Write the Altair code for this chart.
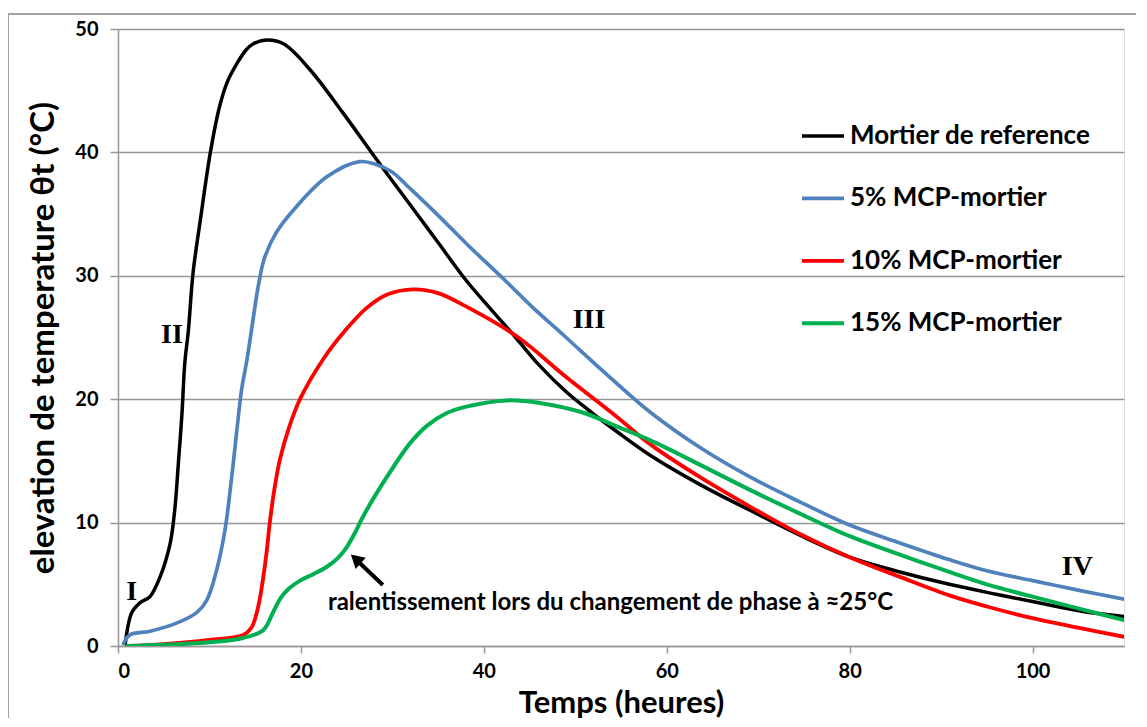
import altair as alt
import pandas as pd

# ---------------- data ----------------
series_names = ["Mortier de reference", "5% MCP-mortier", "10% MCP-mortier", "15% MCP-mortier"]
series_colors = ["#000000", "#4F81BD", "#FF0000", "#00B050"]
series_widths = [3.5, 4, 4, 4]

ref_t = [0.8, 1.5, 2.4, 3.5, 4.6, 5.7, 6.2, 6.6, 7.0, 7.3, 7.7, 8.2, 9.0, 10.1, 11.1, 12.0, 13.0, 14.0,
         14.8, 16.2, 18.1, 21.0, 24.6, 28.3, 31.9, 35.0, 38.1, 41.0, 43.6, 46.0, 49.0, 52.0, 54.5, 58.1,
         63.6, 69.1, 74.5, 80.0, 85.5, 90.9, 96.0, 100.0, 105.5, 110.0]
ref_v = [0.2, 2.7, 3.5, 4.0, 5.6, 8.3, 11.0, 14.8, 18.9, 22.9, 25.6, 30.2, 34.5, 40.0, 43.7, 45.8, 47.2, 48.3,
         48.8, 49.1, 48.8, 46.7, 43.2, 39.4, 35.8, 32.7, 29.6, 27.1, 24.9, 22.8, 20.6, 18.8, 17.4, 15.5,
         13.1, 11.0, 9.0, 7.2, 6.0, 5.0, 4.2, 3.6, 2.8, 2.4]

p5_t = [0.6, 1.3, 3.5, 6.4, 8.6, 9.7, 10.8, 11.7, 12.4, 13.0, 13.5, 14.1, 14.6, 15.3, 16.0, 17.3, 19.5,
        22.8, 26.4, 28.3, 30.0, 31.9, 35.0, 38.1, 42.5, 45.4, 49.0, 53.0, 58.1, 63.6, 69.1, 74.5, 80.0,
        85.5, 90.9, 95.0, 100.0, 105.5, 110.0]
p5_v = [0.2, 0.9, 1.2, 1.85, 2.7, 3.7, 6.2, 9.4, 13.5, 17.5, 20.7, 23.2, 25.6, 29.0, 31.4, 33.5, 35.6,
        38.0, 39.25, 39.0, 38.4, 37.1, 34.9, 32.6, 29.5, 27.4, 25.0, 22.3, 19.0, 16.1, 13.7, 11.7, 9.8,
        8.35, 7.0, 6.1, 5.3, 4.45, 3.8]

p10_t = [1.0, 5.0, 10.0, 13.7, 14.6, 15.1, 15.5, 15.85, 16.25, 16.6, 17.1, 17.7, 18.7, 19.9, 22.4, 25.0,
         27.2, 29.5, 32.3, 35.0, 38.1, 43.6, 49.0, 54.5, 58.1, 63.6, 69.1, 74.5, 80.0, 85.5, 90.9, 95.0,
         100.0, 105.5, 110.0]
p10_v = [0.0, 0.15, 0.5, 0.9, 1.5, 2.5, 3.8, 5.4, 7.6, 10.0, 12.7, 15.1, 17.7, 20.0, 23.2, 25.7,
         27.4, 28.5, 28.9, 28.6, 27.5, 25.1, 21.8, 18.6, 16.4, 13.7, 11.3, 9.1, 7.2, 5.6, 4.1, 3.2,
         2.25, 1.4, 0.75]

p15_t = [1.0, 5.0, 10.0, 13.7, 15.9, 17.0, 17.8, 18.6, 19.9, 21.3, 22.8, 24.0, 25.0, 26.0, 26.8, 29.4,
         31.9, 33.7, 36.0, 38.1, 42.5, 46.1, 50.9, 54.5, 58.1, 63.6, 69.1, 74.5, 80.0, 85.5, 90.9, 95.0,
         100.0, 105.5, 110.0]
p15_v = [0.0, 0.1, 0.3, 0.65, 1.3, 2.8, 3.9, 4.6, 5.3, 5.8, 6.4, 7.1, 8.0, 9.3, 10.5, 13.7,
         16.4, 17.8, 18.9, 19.4, 19.9, 19.7, 18.9, 17.8, 16.7, 14.7, 12.65, 10.75, 8.9, 7.4, 6.0, 5.0,
         4.0, 2.95, 2.1]

x_ticks = [0, 20, 40, 60, 80, 100]
y_ticks = [0, 10, 20, 30, 40, 50]

roman_labels = ["I", "II", "III", "IV"]
roman_t = [1.5, 5.9, 51.5, 104.9]
roman_v = [4.4, 25.2, 26.4, 6.4]

note_text = ["ralentissement lors du changement de phase à ≈25°C"]
note_t = [22.95]
note_v = [3.5]

arrow_tail = [28.96, 4.94]
arrow_shaft_end = [26.4, 6.75]
arrow_head = [26.0, 7.05]

# ---------------- tables ----------------
rows = []
for name, ts, vs in zip(series_names, [ref_t, p5_t, p10_t, p15_t], [ref_v, p5_v, p10_v, p15_v]):
    for i, (t, v) in enumerate(zip(ts, vs)):
        rows.append({"serie": name, "t": t, "theta": v, "idx": i})
df = pd.DataFrame(rows)

roman_df = pd.DataFrame({"label": roman_labels, "t": roman_t, "theta": roman_v})
note_df = pd.DataFrame({"label": note_text, "t": note_t, "theta": note_v})
shaft_df = pd.DataFrame({"t": [arrow_tail[0]], "theta": [arrow_tail[1]],
                         "t2": [arrow_shaft_end[0]], "theta2": [arrow_shaft_end[1]]})
head_df = pd.DataFrame({"t": [arrow_head[0]], "theta": [arrow_head[1]]})
frame_df = pd.DataFrame({"a": [0]})

W, H = 1006, 617
FONT = "Lato"
GRID = "#969696"

xs = alt.Scale(domain=[0, 110], nice=False, zero=False)
ys = alt.Scale(domain=[0, 50], nice=False)

lines = alt.Chart(df).mark_line(interpolate="catmull-rom", clip=True, strokeCap="round",
                                strokeJoin="round").encode(
    x=alt.X("t:Q", scale=xs, axis=alt.Axis(
        values=x_ticks, title="Temps (heures)", grid=False,
        domainColor=GRID, domainWidth=1.5, tickColor=GRID, tickWidth=1.5, tickSize=7,
        labelFont=FONT, labelFontSize=20, labelFontWeight="bold", labelColor="#000000",
        labelPadding=8, titleFont=FONT, titleFontSize=31, titleFontWeight="bold",
        titleColor="#000000", titlePadding=7)),
    y=alt.Y("theta:Q", scale=ys, axis=alt.Axis(
        values=y_ticks, title="elevation de temperature θt (°C)", grid=True,
        gridColor=GRID, gridWidth=1.5,
        domainColor=GRID, domainWidth=1.5, tickColor=GRID, tickWidth=1.5, tickSize=8,
        labelFont=FONT, labelFontSize=20, labelFontWeight="bold", labelColor="#000000",
        labelPadding=12, titleFont=FONT, titleFontSize=33, titleFontWeight="bold",
        titleColor="#000000", titlePadding=14)),
    color=alt.Color("serie:N", scale=alt.Scale(domain=series_names, range=series_colors),
                    legend=alt.Legend(
                        title=None, orient="none", legendX=682, legendY=84,
                        symbolType="stroke", symbolSize=1764, symbolStrokeWidth=4,
                        labelFont=FONT, labelFontSize=26, labelFontWeight="bold",
                        labelColor="#000000", labelOffset=4, rowPadding=26.4,
                        labelLimit=400)),
    strokeWidth=alt.StrokeWidth("serie:N", scale=alt.Scale(domain=series_names, range=series_widths),
                                legend=None),
    order="idx:Q",
)

roman = alt.Chart(roman_df).mark_text(font="Liberation Serif", fontWeight="bold", fontSize=28,
                                      color="#000000").encode(
    x=alt.X("t:Q", scale=xs), y=alt.Y("theta:Q", scale=ys), text="label:N")

note = alt.Chart(note_df).mark_text(font=FONT, fontSize=24, fontWeight="bold", align="left",
                                    baseline="middle", color="#000000").encode(
    x=alt.X("t:Q", scale=xs), y=alt.Y("theta:Q", scale=ys), text="label:N")

shaft = alt.Chart(shaft_df).mark_rule(color="#000000", strokeWidth=4).encode(
    x=alt.X("t:Q", scale=xs), y=alt.Y("theta:Q", scale=ys), x2="t2:Q", y2="theta2:Q")

head = alt.Chart(head_df).mark_point(shape="triangle-up", filled=True, color="#000000",
                                     size=230, angle=312, opacity=1).encode(
    x=alt.X("t:Q", scale=xs), y=alt.Y("theta:Q", scale=ys))

frame_top = alt.Chart(frame_df).mark_rule(color="#A0A0A0", strokeWidth=2).encode(
    x=alt.value(-110), x2=alt.value(W + 40), y=alt.value(-15))
frame_left = alt.Chart(frame_df).mark_rule(color="#A0A0A0", strokeWidth=2).encode(
    x=alt.value(-110), y=alt.value(-15), y2=alt.value(H + 120))

chart = alt.layer(frame_top, frame_left, lines, roman, shaft, head, note).properties(
    width=W, height=H,
    autosize=alt.AutoSizeParams(type="none"),
    padding={"left": 110, "top": 21, "right": 12, "bottom": 72},
).configure_view(stroke=None).configure(background="#FFFFFF")

chart.save("out.html", embed_options={"renderer": "svg", "actions": False})
